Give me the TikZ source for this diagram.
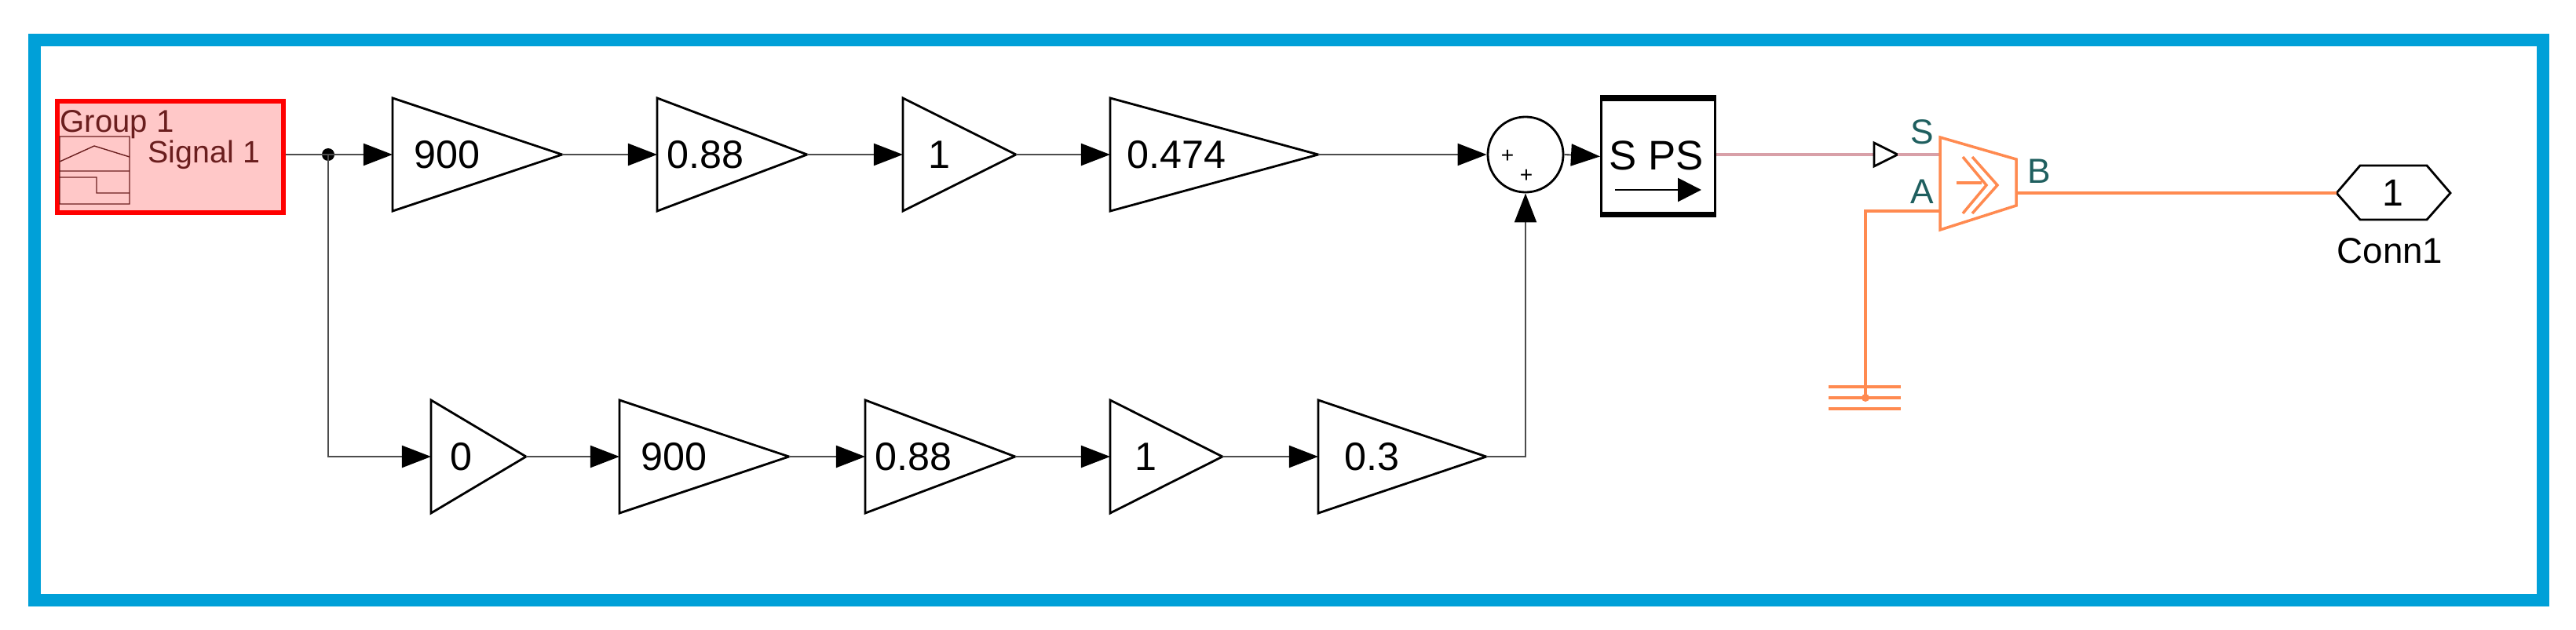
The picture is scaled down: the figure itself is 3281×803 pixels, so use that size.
\documentclass[tikz,border=0pt]{standalone}
\usepackage{fontspec}
\setmainfont{Liberation Sans}
\usetikzlibrary{shapes.geometric,arrows.meta,calc}
\definecolor{frameblue}{HTML}{00A0D8}
\definecolor{sigred}{HTML}{FFC8C8}
\definecolor{sigdark}{HTML}{6A1E1E}
\definecolor{psorange}{HTML}{FF8A50}
\definecolor{portteal}{HTML}{1F5F5F}
\definecolor{pslink}{HTML}{D8A0A8}
\tikzset{
  wire/.style={draw=black!70,line width=0.6pt},
  sig/.style={wire,-{Triangle[length=0.37cm,width=0.28cm,color=black]}},
  gain/.style={isosceles triangle,isosceles triangle stretches,draw,line width=0.8pt,
    inner sep=0pt,outer sep=0pt,minimum width=1.44cm,anchor=lower side},
  gainlabel/.style={font=\fontsize{14.3}{16}\selectfont},
  phys/.style={draw=psorange,line width=1pt},
  port/.style={text=portteal,font=\fontsize{12.6}{14}\selectfont}
}
\begin{document}
\begin{tikzpicture}[x=0.01cm,y=-0.01cm]
  \useasboundingbox (0,0) rectangle (3281,803);
  % frame
  \draw[frameblue,line width=0.16cm] (44,51) rectangle (3239,765);

  % signal builder
  \node[draw=red,line width=1.7pt,fill=sigred,minimum width=2.88cm,minimum height=1.42cm,
    inner sep=0pt,anchor=north west] (src) at (70,126) {};
  \node[anchor=north west,inner sep=0pt,text=sigdark,font=\fontsize{11.4}{13}\selectfont] (grp) at (76,140) {Group 1};
  \node[anchor=west,inner sep=0pt,text=sigdark,font=\fontsize{11.2}{13}\selectfont] (sname) at (188,197) {Signal 1};
  \draw[sigdark,line width=0.4pt] (76,174) rectangle (165,260) (76,218) -- (165,218)
    (76,206) -- (120,186) -- (165,200) (76,226) -- (123,226) -- (123,246) -- (165,246);

  % gains
  \foreach \n/\xl/\xr/\y/\t in {g1/500/716/197/900, g2/837/1028/197/0.88, g3/1150/1294/197/1,
      g4/1414/1679/197/0.474, g5/549/670/582/0, g6/789/1005/582/900, g7/1102/1293/582/0.88,
      g8/1414/1557/582/1, g9/1679/1893/582/0.3}{
    \pgfmathsetmacro{\w}{(\xr-\xl)*0.01}
    \node[gain,minimum height=\w cm] (\n) at (\xl,\y) {};
    \node[gainlabel,inner sep=0pt] (\n t) at ($(\n.lower side)!0.32!(\n.apex)$) {\t};
  }

  % sum and converter
  \node[circle,draw,line width=0.8pt,minimum size=0.96cm,inner sep=0pt] (sum) at (1943,197) {};
  \node[font=\footnotesize,inner sep=0pt] (p1) at (1920,199) {+};
  \node[font=\footnotesize,inner sep=0pt] (p2) at (1944,224) {+};
  \node[draw,line width=0.8pt,minimum width=1.45cm,minimum height=1.46cm,inner sep=0pt,
    anchor=north west] (sps) at (2038,125) {};
  \draw[line width=2pt] (sps.north west) -- (sps.north east) (sps.south west) -- (sps.south east);
  \node[inner sep=0pt,font=\fontsize{15}{17}\selectfont] (spst) at (2110,198) {S PS};
  \coordinate (spsa) at (2057,242);
  \coordinate (spsb) at (2167,242);
  \draw[line width=0.8pt,-{Triangle[length=0.3cm,width=0.3cm]}] (spsa) -- (spsb);

  % junction
  \coordinate (dot) at (418,197);
  \fill (dot) circle (8);

  % signal wires
  \draw[wire] (src.east |- dot) -- (dot);
  \draw[sig] (dot) -- (g1.lower side);
  \draw[sig] (g1.apex) -- (g2.lower side);
  \draw[sig] (g2.apex) -- (g3.lower side);
  \draw[sig] (g3.apex) -- (g4.lower side);
  \draw[sig] (g4.apex) -- (sum.west);
  \draw[sig] (dot) |- (g5.lower side);
  \draw[sig] (g5.apex) -- (g6.lower side);
  \draw[sig] (g6.apex) -- (g7.lower side);
  \draw[sig] (g7.apex) -- (g8.lower side);
  \draw[sig] (g8.apex) -- (g9.lower side);
  \draw[sig] (g9.apex) -| (sum.south);
  \draw[sig] (sum.east) -- (sps.west);

  % physical port
  \coordinate (sin) at (2387,197);
  \coordinate (stip) at (2417,197);
  \draw[pslink,line width=1pt] (sps.east |- sin) -- (sin);
  \draw[line width=0.8pt] (sin) -- ++(0,-15) -- (stip) -- ++(-30,15) -- cycle;

  % converter
  \coordinate (cvS) at (2471,197);
  \coordinate (cvA) at (2471,269);
  \coordinate (cvB) at (2568,246);
  \draw[pslink,line width=1pt] (stip) -- (cvS);
  \draw[phys] (2471,175) -- (2568,203) -- (2568,262) -- (2471,293) -- cycle;
  \draw[phys] (2500,200) -- (2530,236) -- (2500,272) (2512,200) -- (2544,236) -- (2512,272)
    (2492,233) -- (2524,233);
  \node[port] (ls) at (2448,168) {S};
  \node[port] (la) at (2448,244) {A};
  \node[port] (lb) at (2597,218) {B};

  % ground
  \coordinate (gnd) at (2376,507);
  \draw[phys] (cvA) -- (2376,269) -- (gnd);
  \draw[phys] (2329,493) -- (2421,493) (2329,507) -- (2421,507) (2329,521) -- (2421,521);
  \fill[psorange] (gnd) circle (5);

  % connection port
  \coordinate (connW) at (2976,246);
  \draw[line width=0.8pt] (connW) -- (3006,211) -- (3091,211) -- (3121,246) -- (3091,280) -- (3006,280) -- cycle;
  \node[inner sep=0pt,font=\fontsize{13.7}{15}\selectfont] (conn) at (3048,246) {1};
  \node[inner sep=0pt,font=\fontsize{13}{15}\selectfont] (connt) at (3044,320) {Conn1};
  \draw[phys] (cvB) -- (connW);
\end{tikzpicture}
\end{document}
